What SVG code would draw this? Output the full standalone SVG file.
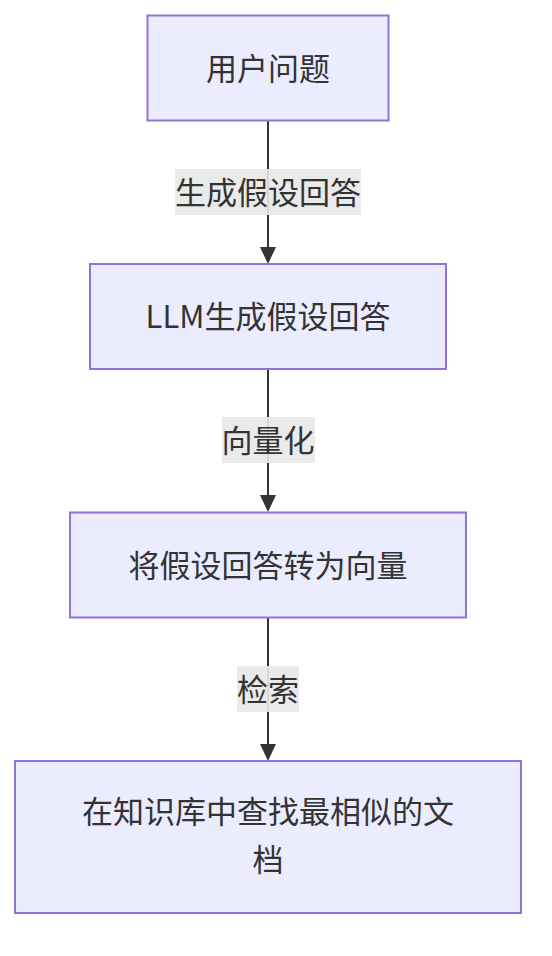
<svg xmlns="http://www.w3.org/2000/svg" width="552" height="956" viewBox="0 0 552 956">
<defs>
<style>
.node rect{fill:#ECECFF;stroke:#9370DB;stroke-width:2}
text{font-family:"Noto Sans CJK SC","Liberation Sans",sans-serif;font-size:31px;fill:#333;text-anchor:middle;dominant-baseline:central}
.edge{stroke:#333;stroke-width:2;fill:none}
.lbl{fill:#E8E8E8;opacity:0.9}
.head{fill:#333}
</style>
</defs>
<rect width="552" height="956" fill="#fff"/>
<g id="connectors">
<path class="edge" d="M268,121 L268,248"/>
<path class="head" d="M260,247 L276,247 L268,264 z"/>
<path class="edge" d="M268,370 L268,496"/>
<path class="head" d="M260,495 L276,495 L268,512 z"/>
<path class="edge" d="M268,618 L268,745"/>
<path class="head" d="M260,744 L276,744 L268,761 z"/>
<g id="label1"><rect class="lbl" x="175" y="169" width="186" height="46"/><text x="268" y="190">生成假设回答</text></g>
<g id="label2"><rect class="lbl" x="222" y="417" width="93" height="46"/><text x="268" y="438">向量化</text></g>
<g id="label3"><rect class="lbl" x="237" y="666" width="62" height="46"/><text x="268" y="687">检索</text></g>
</g>
<g id="n1" class="node"><rect x="147.5" y="15.5" width="241" height="105"/><text x="268" y="66">用户问题</text></g>
<g id="n2" class="node"><rect x="90" y="264" width="356" height="105"/><text x="268" y="314">LLM生成假设回答</text></g>
<g id="n3" class="node"><rect x="70" y="512.5" width="396" height="105"/><text x="268" y="563">将假设回答转为向量</text></g>
<g id="n4" class="node"><rect x="15" y="761" width="506" height="152"/><text x="268" y="809">在知识库中查找最相似的文</text><text x="268" y="857">档</text></g>
</svg>
